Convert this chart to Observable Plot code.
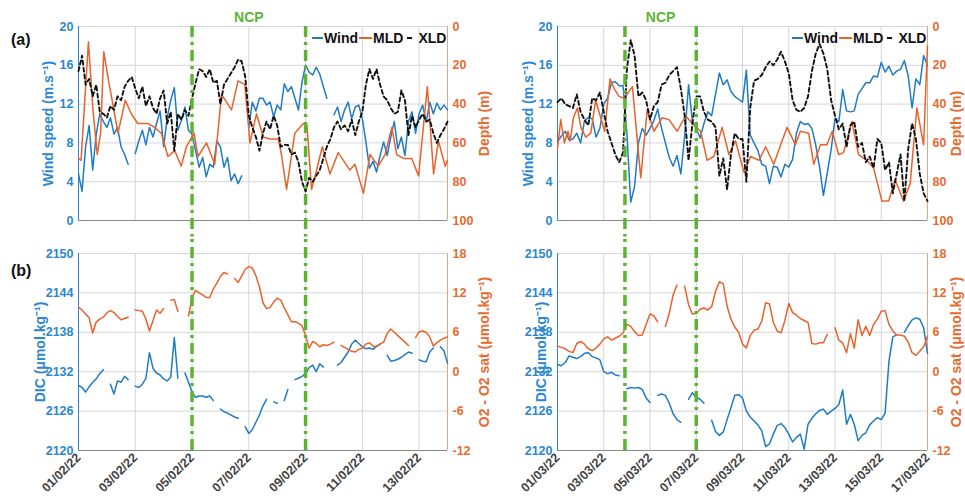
<!DOCTYPE html>
<html>
<head>
<meta charset="utf-8">
<script src="https://cdn.jsdelivr.net/npm/d3@7"></script>
<script src="https://cdn.jsdelivr.net/npm/@observablehq/plot@0.6"></script>
<style>
  body { margin: 0; background: #fff; }
  #chart { position: relative; width: 965px; height: 498px; overflow: hidden; background: #fff;
           font-family: "Liberation Sans", Arial, sans-serif; }
  .panel { position: absolute; }
  .panel svg { overflow: visible; max-width: none; }
  .tag { position: absolute; font-weight: bold; font-size: 16px; color: #111; }
  .legend { position: absolute; display: flex; align-items: center; font-weight: bold; font-size: 14px; color: #111; white-space: nowrap; }
  .legend .sw { display: inline-block; height: 2px; margin-right: 1px; }
</style>
</head>
<body>
<div id="chart"></div>
<script>
// ---------- axis ticks ----------
const windTicks = [0, 4, 8, 12, 16, 20];
const depthTicks = [0, 20, 40, 60, 80, 100];
const dicTicks = [2120, 2126, 2132, 2138, 2144, 2150];
const o2Ticks = [-12, -6, 0, 6, 12, 18];

// ---------- February deployment (3-hourly samples from 01/02/22) ----------
const febStart = "2022-02-01";
const febEnd = "2022-02-14";
const febStepHours = 3;
const febDateTicks = ["2022-02-01", "2022-02-03", "2022-02-05", "2022-02-07", "2022-02-09", "2022-02-11", "2022-02-13"];
const febNCP = ["2022-02-05T00:00", "2022-02-09T00:00"];

const febWind = [4.8,3.0,7.6,9.8,5.2,8.9,11.0,10.2,9.6,10.6,
  8.9,9.6,7.6,6.8,5.8,null,6.9,8.2,9.3,7.8,
  9.6,8.6,10.0,11.3,7.6,10.6,12.4,13.7,9.3,10.3,
  11.7,9.3,8.9,7.2,5.5,6.5,4.5,5.8,5.5,8.2,
  7.6,5.5,6.5,4.1,4.8,3.8,4.6,null,9.6,12.2,
  11.3,12.6,12.6,11.9,12.2,10.7,11.9,11.4,14.1,13.3,
  13.8,12.6,11.4,14.3,16.0,15.3,15.0,15.8,15.1,13.8,
  12.6,null,10.9,11.7,10.2,11.4,12.2,10.5,11.7,11.9,
  10.5,8.1,5.4,6.1,5.0,6.7,8.1,6.7,8.6,10.2,
  7.4,8.6,6.7,10.2,11.2,9.0,11.0,11.9,10.2,12.2,
  11.0,12.1,11.4,11.9,11.4];

const febXLD = [23,15,30,27,36,30,44,45,47,41,
  43,36,38,31,28,26,32,37,31,41,
  36,42,45,37,33,50,44,64,45,48,
  43,46,37,29,22,23,26,22,29,28,
  40,30,27,24,21,17,18,26,46,52,
  57,64,55,49,53,46,51,62,61,61,
  66,65,70,80,85,78,80,77,74,68,
  62,58,52,49,53,51,54,48,56,49,
  44,30,22,27,22,30,36,38,42,45,
  44,33,38,56,46,52,48,45,49,48,
  55,60,56,53,49];

// mixed layer depth, irregular profile times (days after 01/02/22)
const febMLDDay = [0,0.09,0.35,0.51,0.66,0.78,0.89,1.06,1.21,1.39,
  1.65,1.86,2.09,2.45,2.68,2.92,3.15,3.39,3.62,3.80,
  4.07,4.21,4.51,4.80,5.04,5.39,5.62,5.86,6.04,6.27,
  6.51,6.74,7.04,7.15,7.33,7.62,7.92,8.05,8.21,8.39,
  8.59,8.86,9.15,9.56,9.74,10.04,10.27,10.56,10.80,11.04,
  11.21,11.45,11.74,11.98,12.29,12.51,12.68,12.92,13.0];
const febMLD = [68,69,8,43,66,55,13,28,40,55,
  38,45,50,50,52,55,67,64,72,62,
  55,67,60,71,35,43,28,30,60,45,
  57,58,58,66,84,55,50,51,84,74,
  62,76,65,74,71,86,66,72,66,52,
  66,68,68,77,31,76,59,72,69];

const febDIC = [2129.9,2129.6,2128.9,2129.7,2130.4,2130.9,2131.7,2132.3,null,2130.1,
  2128.6,2130.6,2130.4,2131.3,2130.8,null,2129.8,2129.6,2130.1,2131.0,
  2134.9,2132.5,2131.8,2131.5,2130.9,2130.6,2131.2,2137.2,2131.0,null,
  2131.8,2130.4,2128.9,2128.1,2128.3,2128.3,2128.1,2128.3,2127.6,null,
  2126.3,2125.9,2125.7,2125.4,2125.1,2124.9,null,2123.6,2122.6,2123.2,
  2124.3,2125.4,2126.8,2127.8,null,2127.4,2127.2,null,2127.6,2129.3,
  null,2130.8,2131.0,2131.3,2131.7,2132.6,2133.0,2132.0,2133.2,2132.7,
  null,null,null,2133.0,2133.4,2134.2,2135.0,2136.2,2136.8,2136.3,
  2135.8,2135.5,2135.6,2135.4,2135.9,2136.2,null,2134.5,2133.6,2133.7,
  2133.9,2134.2,2134.6,2135.0,2134.8,null,2133.8,2133.6,2133.5,2135.0,
  2135.6,null,2135.8,2135.2,2133.3];

const febO2 = [9.8,9.4,8.8,8.2,5.9,7.6,8.0,8.3,9.0,9.3,
  9.0,8.4,7.9,8.1,8.3,null,9.4,9.3,9.2,8.0,
  6.2,7.8,9.4,8.9,9.6,null,10.9,11.0,9.2,null,
  null,8.5,11.3,12.4,12.0,11.7,11.3,11.3,12.6,13.5,
  14.5,15.1,14.9,null,14.2,13.6,14.6,15.6,16.0,15.8,
  14.6,12.9,10.5,9.6,9.8,10.6,11.2,10.9,9.7,8.7,
  7.6,7.6,7.4,7.0,5.5,3.6,4.6,4.3,3.8,4.1,
  4.0,4.2,4.5,null,4.0,3.7,3.4,3.1,3.0,3.4,
  3.6,4.2,4.4,3.9,3.8,4.2,4.5,5.8,6.5,6.0,
  5.5,5.0,4.5,4.0,null,5.2,6.1,6.2,6.0,5.3,
  3.9,4.4,4.8,5.1,5.3];

// ---------- March deployment (4-hourly samples from 01/03/22) ----------
const marStart = "2022-03-01";
const marEnd = "2022-03-17";
const marStepHours = 4;
const marDateTicks = ["2022-03-01", "2022-03-03", "2022-03-05", "2022-03-07", "2022-03-09",
  "2022-03-11", "2022-03-13", "2022-03-15", "2022-03-17"];
const marNCP = ["2022-03-03T22:00", "2022-03-07T00:00"];

const marWind = [8.1,8.7,9.2,8.3,8.4,9.0,8.0,10.3,10.6,10.5,
  8.6,9.5,12.0,12.6,14.2,14.3,13.9,13.9,9.0,1.9,
  3.5,8.0,9.5,8.8,9.5,10.3,11.5,9.5,8.0,6.5,
  5.6,6.7,4.8,8.7,14.0,10.2,9.5,8.5,10.0,11.2,
  10.8,13.0,15.2,14.0,14.5,13.3,12.8,12.5,12.2,15.5,
  8.8,8.0,7.2,5.8,5.6,3.8,5.6,5.5,4.5,5.8,
  5.5,6.3,9.0,10.2,9.9,10.0,9.5,7.8,5.5,2.6,
  4.9,7.3,10.5,10.2,13.5,11.3,11.2,11.3,13.0,13.6,
  14.2,14.2,14.9,14.8,16.3,15.3,15.9,15.0,15.4,15.6,
  16.5,14.9,11.6,14.6,14.0,17.0,16.0];

const marXLD = [39,37,40,41,42,35,44,48,51,37,
  38,34,44,54,60,66,70,65,22,7,
  15,36,34,38,48,41,39,30,29,25,
  23,21,32,46,69,50,36,36,44,48,
  49,52,77,68,84,66,55,58,58,80,
  42,28,27,25,21,18,20,17,13,18,
  24,38,43,44,42,36,23,14,9,14,
  22,38,46,53,50,62,51,49,62,60,
  70,67,73,58,60,74,70,86,76,66,
  90,63,50,58,76,86,90];

const marMLDDay = [0.00,0.14,0.30,0.45,0.55,0.69,0.86,1.01,1.22,1.44,
  1.65,1.87,2.04,2.27,2.45,2.66,2.88,3.24,3.60,3.88,
  4.17,4.53,4.82,5.18,5.54,5.83,6.19,6.47,6.76,7.12,
  7.41,7.70,8.06,8.35,8.71,9.00,9.35,9.71,9.93,10.29,
  10.50,10.86,11.08,11.37,11.65,11.88,12.16,12.37,12.73,13.02,
  13.38,13.67,14.03,14.32,14.60,14.96,15.25,15.54,15.83,16.00];
const marMLD = [63,48,60,54,59,47,42,52,57,55,
  38,47,54,27,32,36,37,31,78,43,
  54,47,48,54,46,50,54,69,67,52,
  66,59,75,67,69,62,71,59,52,61,
  54,55,71,61,61,54,66,65,49,66,
  69,73,90,90,79,90,81,42,61,10];

const marDIC = [2133.1,2132.9,2133.4,2134.4,2134.2,2134.0,2134.3,2134.8,2134.9,2134.3,
  2134.1,2133.8,2132.0,2131.7,2131.9,2131.5,2131.4,null,2129.4,2129.6,
  2129.5,2129.6,2129.3,2128.0,2127.3,null,2128.4,2128.6,2128.4,2127.2,
  2125.6,2124.7,2124.3,null,2127.8,2128.8,2128.1,2127.8,2127.2,null,
  2124.6,2122.9,2122.3,2122.8,2124.7,2126.5,2128.4,2128.5,2128.0,2126.0,
  2125.1,2124.5,2123.9,2123.0,2120.6,2121.0,2122.5,2123.8,2124.1,2123.5,
  2122.5,2121.3,2122.0,2122.5,2120.2,2124.0,2124.9,2125.6,2126.1,2126.3,
  2125.5,2126.0,2126.4,2127.0,2129.2,2124.0,2125.5,2124.0,2121.5,2122.3,
  2122.7,2123.9,2124.5,2125.0,2124.7,2125.7,2133.6,2137.3,2137.6,null,
  2138.0,2139.0,2139.9,2140.2,2140.0,2138.7,2134.8];

const marO2 = [3.9,3.7,3.5,3.1,2.9,4.3,4.6,4.2,3.5,3.2,
  3.6,4.2,5.0,5.3,4.8,5.1,5.4,5.9,7.2,6.9,
  6.1,5.5,5.6,7.2,8.8,8.5,7.6,null,6.9,8.9,
  11.7,13.2,null,13.0,10.2,8.8,8.9,9.5,9.7,9.4,
  9.9,12.2,13.7,13.4,10.0,8.0,6.8,6.0,4.2,3.6,
  5.5,6.3,6.5,7.7,10.5,10.3,7.5,6.2,5.9,7.8,
  10.4,9.0,8.6,8.1,7.8,7.5,4.3,4.2,4.4,4.4,
  5.7,null,6.7,4.8,4.4,2.9,5.8,3.6,7.9,5.5,
  6.9,5.5,7.2,8.0,9.2,9.3,7.2,6.2,5.6,5.6,
  5.4,4.5,2.9,2.5,3.1,3.8,5.4];

// ---------- styling ----------
const FONT = '"Liberation Sans", Arial, sans-serif';
const BLUE = "#1f7bc6", BLUE_TXT = "#2b87d1";
const ORANGE = "#e8622b", ORANGE_TXT = "#e96a30", ORANGE_AXIS = "#f1a07a";
const GREEN = "#5bb533", GRID = "#d6d6d6", AXIS = "#8a8a8a", XLAB = "#404040";
const NCP_DASH = "11,5,3,5";

// the right-hand axes share the left scale through these linear maps
const depthToY = d => d == null ? null : 20 - d / 5;
const yToDepth = y => String(Math.round((20 - y) * 5));
const o2ToY = o => o == null ? null : o + 2132;
const yToO2 = y => String(Math.round(y - 2132));
const plain = v => String(v);

const utc = s => new Date(s.length <= 10 ? s + "T00:00Z" : s + "Z");
const stepSeries = (start, hours, values) => {
  const t0 = utc(start).getTime();
  return values.map((v, i) => ({t: new Date(t0 + i * hours * 3600e3), v}));
};
const daySeries = (start, days, values) => {
  const t0 = utc(start).getTime();
  return values.map((v, i) => ({t: new Date(t0 + days[i] * 864e5), v}));
};
const tickStyle = {tickSize: 0, tickPadding: 5, label: null, fontSize: 12.5, fontWeight: "bold"};
const titleStyle = {rotate: -90, textAnchor: "middle", lineAnchor: "middle", fontSize: 14, fontWeight: "bold", text: d => d};

function frameMarks(x0, x1, dateTicks, yTicks, yBottom) {
  return [
    Plot.gridX(dateTicks, {stroke: GRID, strokeOpacity: 1}),
    Plot.gridY(yTicks, {stroke: GRID, strokeOpacity: 1}),
    Plot.ruleY([yBottom], {stroke: AXIS}),
    Plot.ruleX([x0], {stroke: BLUE_TXT}),
    Plot.ruleX([x1], {stroke: ORANGE_AXIS})
  ];
}

function topPanel(p) {
  const x0 = utc(p.start), x1 = utc(p.end);
  const ncp = p.ncp.map(utc);
  const mid = new Date((ncp[0].getTime() + ncp[1].getTime()) / 2);
  return Plot.plot({
    width: p.width, height: 240,
    marginLeft: p.ml, marginRight: p.mr, marginTop: 26, marginBottom: 20,
    style: {background: "transparent", overflow: "visible", fontFamily: FONT, maxWidth: "none"},
    x: {type: "utc", domain: [x0, x1], axis: null},
    y: {domain: [0, 20], axis: null},
    marks: [
      ...frameMarks(x0, x1, p.dateTicks.map(utc), windTicks, 0),
      Plot.line(stepSeries(p.start, p.step, p.wind), {x: "t", y: "v", stroke: BLUE, strokeWidth: 1.5}),
      Plot.line(daySeries(p.start, p.mldDay, p.mld), {x: "t", y: d => depthToY(d.v), stroke: ORANGE, strokeWidth: 1.5}),
      Plot.line(stepSeries(p.start, p.step, p.xld), {x: "t", y: d => depthToY(d.v), stroke: "#111", strokeWidth: 1.9, strokeDasharray: "4,3"}),
      Plot.ruleX(ncp, {y1: 20, y2: -1.7, stroke: GREEN, strokeWidth: 3.5, strokeDasharray: NCP_DASH}),
      Plot.text([{t: mid, y: 20, s: "NCP"}], {x: "t", y: "y", text: "s", dy: -9, fill: GREEN, fontSize: 14, fontWeight: "bold"}),
      Plot.axisY({ticks: windTicks, tickFormat: plain, anchor: "left", color: BLUE_TXT, ...tickStyle}),
      Plot.axisY({ticks: depthTicks.map(depthToY), tickFormat: yToDepth, anchor: "right", color: ORANGE_TXT, ...tickStyle}),
      Plot.text(["Wind speed (m.s\u207B\u00B9)"], {frameAnchor: "left", dx: p.leftDx, fill: BLUE_TXT, ...titleStyle}),
      Plot.text(["Depth (m)"], {frameAnchor: "right", dx: p.rightDx, fill: ORANGE_TXT, ...titleStyle})
    ]
  });
}

function bottomPanel(p) {
  const x0 = utc(p.start), x1 = utc(p.end);
  const ncp = p.ncp.map(utc);
  return Plot.plot({
    width: p.width, height: 263,
    marginLeft: p.ml, marginRight: p.mr, marginTop: 18, marginBottom: 48,
    style: {background: "transparent", overflow: "visible", fontFamily: FONT, maxWidth: "none"},
    x: {type: "utc", domain: [x0, x1], axis: null},
    y: {domain: [2120, 2150], axis: null},
    marks: [
      ...frameMarks(x0, x1, p.dateTicks.map(utc), dicTicks, 2120),
      Plot.line(stepSeries(p.start, p.step, p.dic), {x: "t", y: "v", stroke: BLUE, strokeWidth: 1.5}),
      Plot.line(stepSeries(p.start, p.step, p.o2), {x: "t", y: d => o2ToY(d.v), stroke: ORANGE, strokeWidth: 1.5}),
      Plot.ruleX(ncp, {y1: 2120, y2: 2152.6, stroke: GREEN, strokeWidth: 3.5, strokeDasharray: NCP_DASH}),
      Plot.axisY({ticks: dicTicks, tickFormat: plain, anchor: "left", color: BLUE_TXT, ...tickStyle}),
      Plot.axisY({ticks: o2Ticks.map(o2ToY), tickFormat: yToO2, anchor: "right", color: ORANGE_TXT, ...tickStyle}),
      Plot.axisX({ticks: p.dateTicks.map(utc), tickFormat: d3.utcFormat("%d/%m/%y"), tickRotate: -45,
                  tickSize: 0, tickPadding: 5, label: null, color: XLAB, fontSize: 12.5, fontWeight: "bold"}),
      Plot.text(["DIC (\u03BCmol.kg\u207B\u00B9)"], {frameAnchor: "left", dx: p.leftDx, fill: BLUE_TXT, ...titleStyle}),
      Plot.text(["O2 - O2 sat (\u03BCmol.kg\u207B\u00B9)"], {frameAnchor: "right", dx: p.rightDx, fill: ORANGE_TXT, ...titleStyle})
    ]
  });
}

const chart = document.getElementById("chart");
function place(node, left, top, width) {
  const div = document.createElement("div");
  div.className = "panel";
  div.style.left = left + "px";
  div.style.top = top + "px";
  div.style.width = width + "px";
  div.appendChild(node);
  chart.appendChild(div);
}
function addHTML(html) { chart.insertAdjacentHTML("beforeend", html); }

const feb = {start: febStart, end: febEnd, step: febStepHours, dateTicks: febDateTicks, ncp: febNCP,
  width: 495, ml: 78, mr: 48};
const mar = {start: marStart, end: marEnd, step: marStepHours, dateTicks: marDateTicks, ncp: marNCP,
  width: 485, ml: 77, mr: 38};

place(topPanel({...feb, wind: febWind, xld: febXLD, mldDay: febMLDDay, mld: febMLD, leftDx: -30, rightDx: 37}), 0, 0, 495);
place(bottomPanel({...feb, dic: febDIC, o2: febO2, leftDx: -38, rightDx: 37}), 0, 235, 495);
place(topPanel({...mar, wind: marWind, xld: marXLD, mldDay: marMLDDay, mld: marMLD, leftDx: -29, rightDx: 29}), 480, 0, 485);
place(bottomPanel({...mar, dic: marDIC, o2: marO2, leftDx: -16, rightDx: 29}), 480, 235, 485);

// panel tags and legends
addHTML('<div class="tag" style="left:11px;top:31px">(a)</div>');
addHTML('<div class="tag" style="left:11px;top:262px">(b)</div>');
const legend = left =>
  `<div class="legend" style="left:${left}px;top:30px">` +
  `<span class="sw" style="width:11px;background:${BLUE}"></span>Wind` +
  `<span class="sw" style="width:13px;background:${ORANGE};margin-left:1px"></span>MLD` +
  `<span class="sw" style="width:5px;background:#111;margin-left:4px;margin-right:6px"></span>XLD</div>`;
addHTML(legend(312));
addHTML(legend(792));
</script>
</body>
</html>
